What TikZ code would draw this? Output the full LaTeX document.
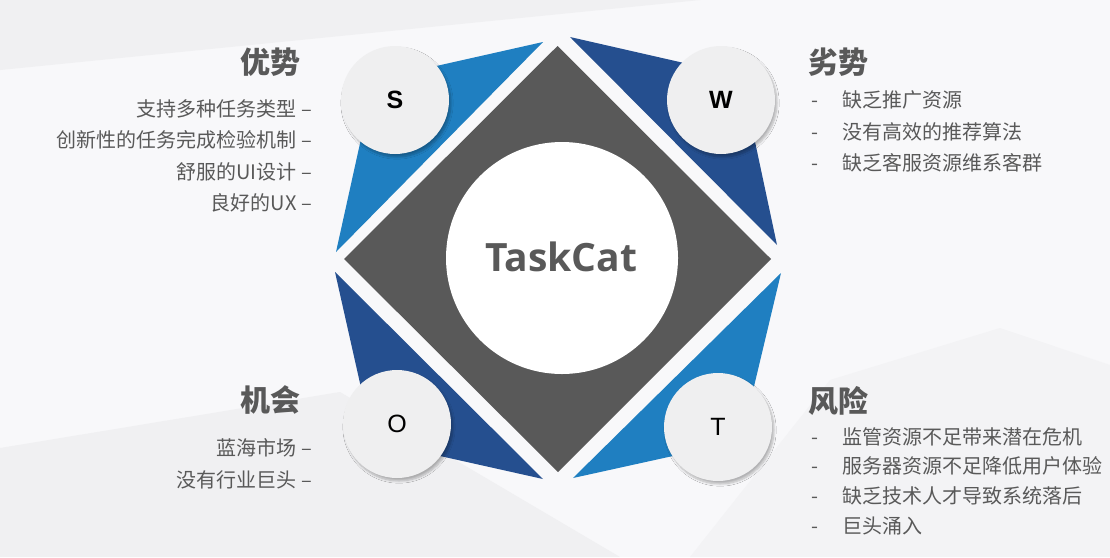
\documentclass[tikz,border=0pt]{standalone}
\usepackage{fontspec}
\setmainfont{Noto Sans CJK SC}
\newfontfamily\arialfont{Liberation Sans}
\newfontfamily\titlefont{Open Sans}
\usepackage{tikz}
\usetikzlibrary{shadows.blur}
\definecolor{lightblue}{RGB}{31,127,193}
\definecolor{darkblue}{RGB}{37,79,143}
\definecolor{diamgray}{RGB}{89,89,89}
\definecolor{txtgray}{RGB}{89,89,89}
\definecolor{circgray}{RGB}{239,239,240}
\definecolor{bgwhite}{RGB}{248,248,250}
\definecolor{bggray}{RGB}{240,240,242}

\begin{document}
\begin{tikzpicture}[x=1pt,y=-1pt,
  letter/.style={circle,fill=circgray,minimum size=108pt,inner sep=0pt,
    blur shadow={shadow xshift=2pt,shadow yshift=-3pt,shadow blur steps=8,shadow opacity=28}},
  head/.style={inner sep=0pt,text=txtgray,font=\bfseries\fontsize{30}{30}\selectfont},
  item/.style={inner sep=0pt,text=txtgray,font=\fontsize{20}{20}\selectfont}]
\useasboundingbox (0,0) rectangle (1110,557);
\fill[bgwhite] (0,0) rectangle (1110,557);
\fill[bggray] (0,0) -- (700,0) -- (0,70) -- cycle;
\fill[bggray] (0,448) -- (340,392) -- (620,557) -- (0,557) -- cycle;
\fill[bggray!60!bgwhite] (690,557) -- (830,380) -- (1000,328) -- (1110,365) -- (1110,557) -- cycle;
\fill[lightblue] (543,42) -- (374,80) -- (336,252) -- cycle;
\fill[darkblue] (570,37) -- (741,76) -- (777,245) -- cycle;
\fill[darkblue] (335,272) -- (373,441) -- (543,479) -- cycle;
\fill[lightblue] (781,273) -- (741,441) -- (573,478) -- cycle;
\fill[diamgray] (557.5,46) -- (771,259) -- (558,472) -- (344,259) -- cycle;
\node[circle,fill=white,minimum size=232pt,inner sep=0pt] (core) at (562,258) {};
\node[inner sep=0pt,text=txtgray,font=\titlefont\bfseries\fontsize{39}{39}\selectfont] (name) at (561,257) {TaskCat};
\node[letter,font=\arialfont\bfseries\fontsize{25}{25}\selectfont] (S) at (395,100) {S};
\node[letter,font=\arialfont\bfseries\fontsize{25}{25}\selectfont] (W) at (721,100) {W};
\node[letter,font=\arialfont\fontsize{25}{25}\selectfont] (O) at (397,424) {O};
\node[letter,font=\arialfont\fontsize{25}{25}\selectfont] (T) at (718,427) {T};
\node[head,anchor=east] (Sh) at (301,62) {优势};
\node[head,anchor=west] (Wh) at (808,62) {劣势};
\node[head,anchor=east] (Oh) at (301,400) {机会};
\node[head,anchor=west] (Th) at (808,401) {风险};
\foreach \txt [count=\i] in {支持多种任务类型, 创新性的任务完成检验机制, 舒服的UI设计, 良好的UX}
  \node[item,anchor=east] (s\i) at (312,{77+31.5*\i}) {\txt\ –};
\foreach \txt [count=\i] in {缺乏推广资源, 没有高效的推荐算法, 缺乏客服资源维系客群}
  \node[item,anchor=west] (w\i) at (811,{68.5+31.6*\i}) {\makebox[31pt][l]{-}\txt};
\foreach \txt [count=\i] in {蓝海市场, 没有行业巨头}
  \node[item,anchor=east] (o\i) at (312,{416+32*\i}) {\txt\ –};
\foreach \txt [count=\i] in {监管资源不足带来潜在危机, 服务器资源不足降低用户体验, 缺乏技术人才导致系统落后, 巨头涌入}
  \node[item,anchor=west] (t\i) at (811,{406.8+29.7*\i}) {\makebox[31pt][l]{-}\txt};
\end{tikzpicture}
\end{document}
